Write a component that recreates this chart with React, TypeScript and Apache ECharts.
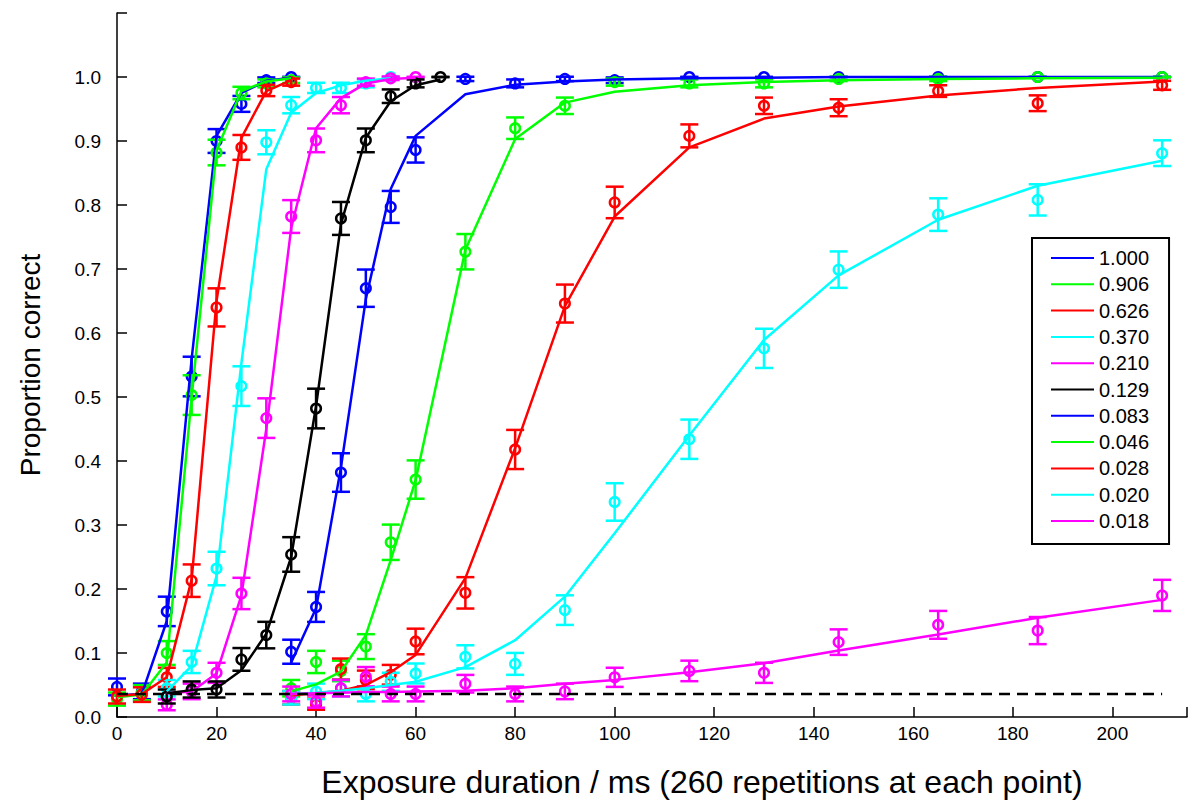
import React, { useEffect, useRef } from "react";
import * as echarts from "echarts";

// ---- Data ----
const CONTRASTS = ["1.000", "0.906", "0.626", "0.370", "0.210", "0.129", "0.083", "0.046", "0.028", "0.020", "0.018"];
const COLORS = ["#0000ff", "#00ff00", "#ff0000", "#00ffff", "#ff00ff", "#000000", "#0000ff", "#00ff00", "#ff0000", "#00ffff", "#ff00ff"];
const REPETITIONS = 260;
const CHANCE = 0.036;
const CHANCE_X = [0, 210];

const X_HIGH = [0, 5, 10, 15, 20, 25, 30, 35];
const X_C370 = [10, 15, 20, 25, 30, 35, 40, 45, 50, 55];
const X_C210 = [10, 15, 20, 25, 30, 35, 40, 45, 50, 55, 60];
const X_C129 = [10, 15, 20, 25, 30, 35, 40, 45, 50, 55, 60, 65];
const X_LOW = [35, 40, 45, 50, 55, 60, 70, 80, 90, 100, 115, 130, 145, 165, 185, 210];

const P_1000 = [0.047, 0.040, 0.165, 0.532, 0.900, 0.958, 0.995, 1.000];
const F_1000 = [0.034, 0.036, 0.150, 0.560, 0.908, 0.975, 0.994, 0.999];
const P_0906 = [0.028, 0.038, 0.100, 0.503, 0.882, 0.975, 0.990, 0.995];
const F_0906 = [0.031, 0.035, 0.085, 0.500, 0.885, 0.978, 0.993, 0.998];
const P_0626 = [0.032, 0.035, 0.062, 0.213, 0.640, 0.890, 0.979, 0.992];
const F_0626 = [0.033, 0.036, 0.062, 0.215, 0.650, 0.905, 0.978, 0.995];
const P_0370 = [0.045, 0.086, 0.232, 0.517, 0.898, 0.956, 0.983, 0.983, 0.990, 1.000];
const F_0370 = [0.040, 0.080, 0.220, 0.553, 0.856, 0.944, 0.975, 0.987, 0.994, 0.998];
const P_0210 = [0.019, 0.040, 0.069, 0.193, 0.467, 0.782, 0.901, 0.956, 0.992, 0.998, 1.000];
const F_0210 = [0.037, 0.040, 0.068, 0.190, 0.450, 0.764, 0.920, 0.967, 0.990, 0.997, 0.999];
const P_0129 = [0.032, 0.043, 0.043, 0.090, 0.128, 0.254, 0.482, 0.779, 0.901, 0.970, 0.990, 1.000];
const F_0129 = [0.037, 0.042, 0.045, 0.073, 0.130, 0.250, 0.486, 0.770, 0.905, 0.962, 0.987, 0.996];
const P_0083 = [0.102, 0.172, 0.382, 0.670, 0.797, 0.886, 0.997, 0.990, 0.997, 0.995, 1.000, 1.000, 1.000, 1.000, 1.000, 1.000];
const F_0083 = [0.085, 0.170, 0.390, 0.653, 0.825, 0.908, 0.973, 0.988, 0.993, 0.996, 0.998, 0.999, 1.000, 1.000, 1.000, 1.000];
const P_0046 = [0.045, 0.086, 0.072, 0.110, 0.273, 0.371, 0.727, 0.920, 0.955, 0.992, 0.990, 0.990, 0.997, 0.997, 1.000, 1.000];
const F_0046 = [0.040, 0.051, 0.071, 0.128, 0.245, 0.370, 0.730, 0.903, 0.960, 0.977, 0.987, 0.992, 0.995, 0.997, 0.998, 0.999];
const P_0028 = [0.030, 0.020, 0.075, 0.058, 0.066, 0.118, 0.194, 0.418, 0.646, 0.804, 0.908, 0.955, 0.952, 0.978, 0.959, 0.987];
const F_0028 = [0.034, 0.037, 0.041, 0.050, 0.070, 0.097, 0.217, 0.420, 0.642, 0.782, 0.890, 0.935, 0.954, 0.971, 0.983, 0.993];
const P_0020 = [0.030, 0.040, 0.045, 0.036, 0.055, 0.068, 0.094, 0.083, 0.167, 0.336, 0.434, 0.576, 0.699, 0.785, 0.808, 0.881];
const F_0020 = [0.036, 0.038, 0.041, 0.045, 0.050, 0.055, 0.078, 0.120, 0.188, 0.287, 0.440, 0.589, 0.690, 0.777, 0.830, 0.869];
const P_0018 = [0.036, 0.024, 0.045, 0.063, 0.036, 0.036, 0.052, 0.036, 0.040, 0.062, 0.072, 0.069, 0.117, 0.144, 0.135, 0.190];
const F_0018 = [0.036, 0.037, 0.038, 0.039, 0.039, 0.040, 0.041, 0.045, 0.052, 0.058, 0.070, 0.084, 0.104, 0.129, 0.155, 0.183];

const SERIES_X = [X_HIGH, X_HIGH, X_HIGH, X_C370, X_C210, X_C129, X_LOW, X_LOW, X_LOW, X_LOW, X_LOW];
const SERIES_P = [P_1000, P_0906, P_0626, P_0370, P_0210, P_0129, P_0083, P_0046, P_0028, P_0020, P_0018];
const SERIES_F = [F_1000, F_0906, F_0626, F_0370, F_0210, F_0129, F_0083, F_0046, F_0028, F_0020, F_0018];

const X_TITLE = "Exposure duration / ms (260 repetitions at each point)";
const Y_TITLE = "Proportion correct";

const FONT = "'Liberation Sans', Arial, Helvetica, sans-serif";

export default function App() {
  const ref = useRef<HTMLDivElement>(null);

  useEffect(() => {
    if (!ref.current) return;
    const chart = echarts.init(ref.current, null, { renderer: "svg" });

    const series: any[] = [];
    CONTRASTS.forEach((name, i) => {
      const xs = SERIES_X[i];
      const color = COLORS[i];
      series.push({
        name,
        type: "line",
        data: xs.map((x, k) => [x, SERIES_F[i][k]]),
        showSymbol: false,
        symbol: "none",
        color,
        itemStyle: { color },
        lineStyle: { color, width: 2.5 },
        z: 2,
      });
      series.push({
        name: name + " data",
        type: "custom",
        data: xs.map((x, k) => {
          const p = SERIES_P[i][k];
          const se = Math.sqrt((p * (1 - p)) / REPETITIONS);
          return [x, p, se];
        }),
        z: 2,
        renderItem: (params: any, api: any) => {
          const x = api.value(0);
          const y = api.value(1);
          const e = api.value(2);
          const c = api.coord([x, y]);
          const top = api.coord([x, y + e])[1];
          const bot = api.coord([x, y - e])[1];
          const hw = 9;
          const st = { stroke: color, lineWidth: 2.5, fill: "none" };
          return {
            type: "group",
            children: [
              { type: "line", shape: { x1: c[0], y1: top, x2: c[0], y2: bot }, style: st },
              { type: "line", shape: { x1: c[0] - hw, y1: top, x2: c[0] + hw, y2: top }, style: st },
              { type: "line", shape: { x1: c[0] - hw, y1: bot, x2: c[0] + hw, y2: bot }, style: st },
              { type: "circle", shape: { cx: c[0], cy: c[1], r: 4.8 }, style: st },
            ],
          };
        },
      });
    });

    series.push({
      name: "chance",
      type: "line",
      data: CHANCE_X.map((x) => [x, CHANCE]),
      showSymbol: false,
      symbol: "none",
      lineStyle: { color: "#000", width: 2.5, type: [11, 7] },
      z: 5,
    });

    const option: any = {
      animation: false,
      backgroundColor: "#fff",
      textStyle: { fontFamily: FONT },
      grid: { left: 117, top: 13, width: 1075, height: 704, containLabel: false },
      xAxis: {
        type: "value",
        min: 0,
        max: 215,
        interval: 20,
        axisLine: { show: true, lineStyle: { color: "#000", width: 1.5 } },
        axisTick: { show: true, inside: true, length: 10, lineStyle: { color: "#000", width: 1.5 } },
        axisLabel: {
          color: "#000",
          fontSize: 19,
          fontFamily: FONT,
          margin: 7,
          formatter: (v: number) => (Math.round(v) % 20 === 0 && v <= 200 ? String(Math.round(v)) : ""),
        },
        splitLine: { show: false },
      },
      yAxis: {
        type: "value",
        min: 0,
        max: 1.1,
        interval: 0.1,
        axisLine: { show: true, lineStyle: { color: "#000", width: 1.5 } },
        axisTick: { show: true, inside: true, length: 10, lineStyle: { color: "#000", width: 1.5 } },
        axisLabel: {
          color: "#000",
          fontSize: 19,
          fontFamily: FONT,
          margin: 16,
          formatter: (v: number) => (v > 1.05 ? "" : v.toFixed(1)),
        },
        splitLine: { show: false },
      },
      legend: {
        orient: "vertical",
        left: 1032,
        top: 238,
        padding: [10, 20, 13, 19],
        itemWidth: 43,
        itemHeight: 2,
        itemGap: 6.3,
        icon: "rect",
        selectedMode: false,
        borderColor: "#000",
        borderWidth: 2,
        borderRadius: 0,
        backgroundColor: "#fff",
        textStyle: { color: "#000", fontSize: 20, lineHeight: 20, fontFamily: FONT },
        data: CONTRASTS.map((n, i) => ({ name: n, itemStyle: { color: COLORS[i] } })),
        z: 10,
      },
      graphic: [
        {
          type: "text",
          x: 702,
          y: 782,
          style: {
            text: X_TITLE,
            fontSize: 32,
            fontFamily: FONT,
            fill: "#000",
            textAlign: "center",
            textVerticalAlign: "middle",
          },
        },
        {
          type: "text",
          x: 30,
          y: 365,
          rotation: Math.PI / 2,
          style: {
            text: Y_TITLE,
            fontSize: 28,
            fontFamily: FONT,
            fill: "#000",
            textAlign: "center",
            textVerticalAlign: "middle",
          },
        },
      ],
      series,
    };

    chart.setOption(option);
    return () => chart.dispose();
  }, []);

  return (
    <div
      ref={ref}
      style={{ position: "absolute", left: 0, top: 0, width: 1190, height: 806, background: "#fff" }}
    />
  );
}
